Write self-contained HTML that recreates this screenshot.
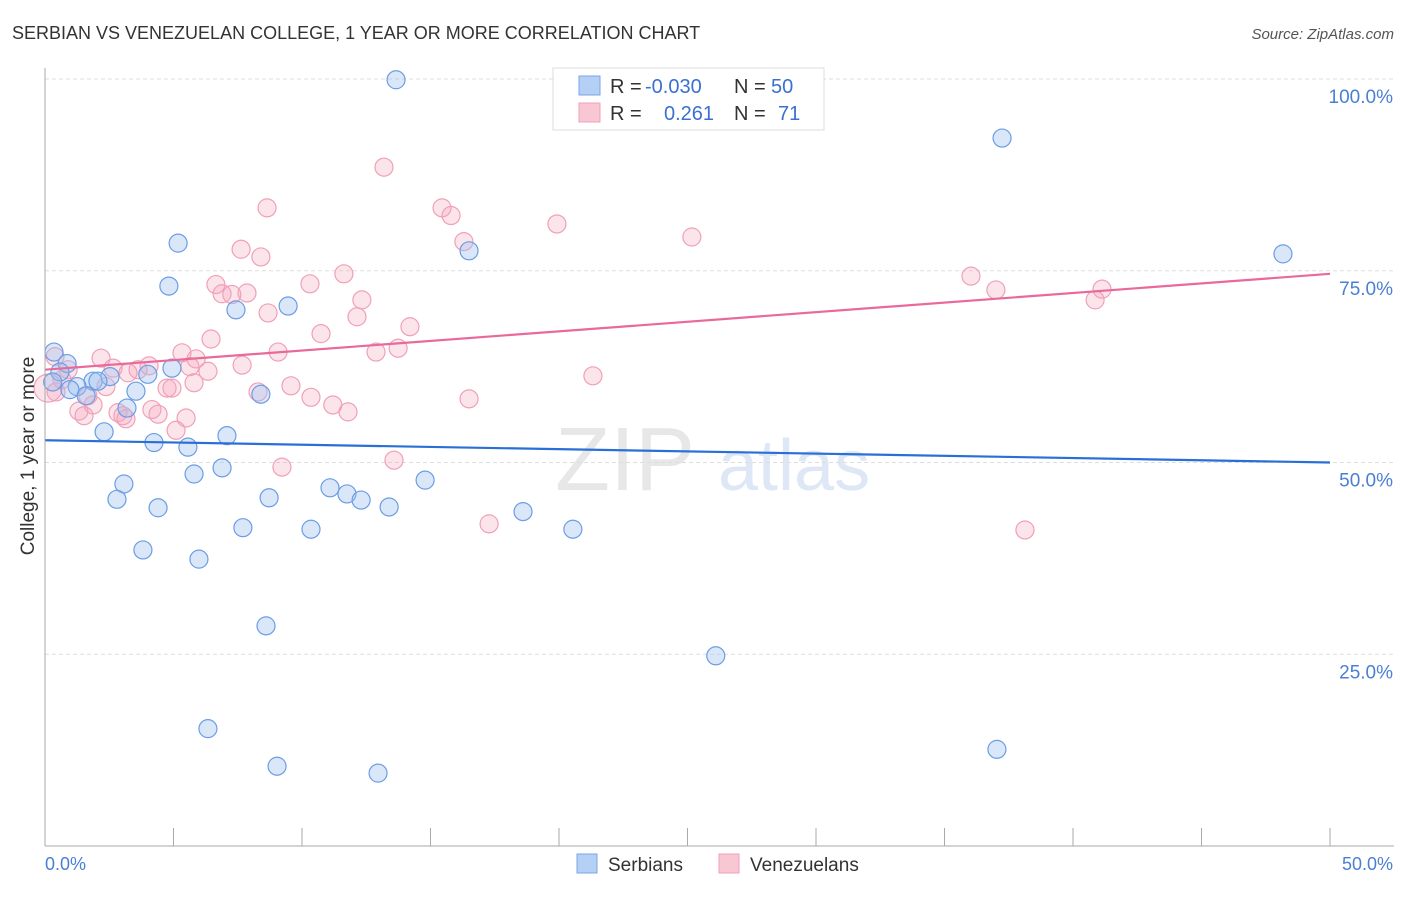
<!DOCTYPE html>
<html><head><meta charset="utf-8"><style>
body{margin:0;background:#fff;font-family:"Liberation Sans",sans-serif;}
svg text{font-family:"Liberation Sans",sans-serif;}
</style></head><body>
<svg id="c" width="1406" height="892">
<text x="12" y="39" font-size="18" fill="#333">SERBIAN VS VENEZUELAN COLLEGE, 1 YEAR OR MORE CORRELATION CHART</text>
<text x="1394" y="39" font-size="15" fill="#555" text-anchor="end" font-style="italic">Source: ZipAtlas.com</text>
<g><text x="555" y="490" font-size="90" fill="#ddd" font-family="Liberation Serif" opacity="0.7">ZIP</text><text x="718" y="490" font-size="72" fill="#c8d8ef" opacity="0.6">atlas</text></g>
<g id="grid"></g><g id="pts"></g><g id="lines"></g>
<line x1="45" y1="68" x2="45" y2="846" stroke="#aaa"/>
<line x1="45" y1="846" x2="1394" y2="846" stroke="#aaa"/>
<text x="34" y="456" font-size="19" fill="#333" text-anchor="middle" transform="rotate(-90 34 456)">College, 1 year or more</text>
<text x="45" y="870" font-size="18" fill="#4a7fd4">0.0%</text>
<text x="1393" y="870" font-size="18" fill="#4a7fd4" text-anchor="end">50.0%</text>
<g>
<rect x="553" y="68" width="271" height="62" fill="#fff" stroke="#ddd"/>
<rect x="579" y="76" width="21" height="19" fill="#b5d0f5" stroke="#7aa6e6"/>
<rect x="579" y="103" width="21" height="19" fill="#f9c6d4" stroke="#f0a0b8"/>
<text font-size="20" fill="#333"><tspan x="610" y="93">R =</tspan><tspan x="734" y="93">N =</tspan><tspan x="610" y="120">R =</tspan><tspan x="734" y="120">N =</tspan></text>
<text font-size="20" fill="#3b6fd0"><tspan x="645" y="93">-0.030</tspan><tspan x="771" y="93">50</tspan><tspan x="664" y="120">0.261</tspan><tspan x="778" y="120">71</tspan></text>
</g>
<g>
<rect x="577" y="854" width="20" height="19" fill="#b5d0f5" stroke="#7aa6e6"/>
<text x="608" y="871" font-size="19" fill="#333">Serbians</text>
<rect x="719" y="854" width="20" height="19" fill="#f9c6d4" stroke="#f0a0b8"/>
<text x="750" y="871" font-size="19" fill="#333">Venezuelans</text>
</g>
</svg>
<script>
const yTicks=[100,75,50,25];
const yTickLabels=["100.0%","75.0%","50.0%","25.0%"];
const xTicks=[0,5,10,15,20,25,30,35,40,45,50];
const serbX=[13.66,37.24,48.17,5.18,16.5,4.82,7.43,9.46,0.35,0.86,0.58,4.94,4.0,2.53,1.87,2.06,1.25,0.97,3.54,1.6,8.4,3.19,2.3,7.08,4.24,5.56,6.89,5.8,3.07,14.79,11.09,11.75,8.72,2.8,12.3,13.39,4.4,18.6,7.7,10.35,20.54,3.81,5.99,8.6,26.1,6.34,37.04,9.03,12.96,0.3];
const serbY=[99.9,92.3,77.2,78.6,77.6,73.0,69.9,70.4,64.4,62.9,61.8,62.3,61.5,61.2,60.6,60.6,59.9,59.5,59.3,58.7,58.9,57.1,54.0,53.5,52.6,52.0,49.3,48.5,47.2,47.7,46.7,45.9,45.4,45.2,45.1,44.2,44.1,43.6,41.5,41.3,41.3,38.6,37.4,28.7,24.8,15.3,12.6,10.4,9.5,60.5];
const venX=[13.19,8.64,15.45,15.8,19.92,25.17,16.3,7.63,8.4,11.63,36.03,10.31,6.65,37.0,41.13,7.86,6.89,7.27,12.33,40.86,8.68,12.14,14.2,10.74,6.46,13.74,12.88,9.07,5.33,2.18,5.88,0.39,4.05,7.67,5.64,2.65,0.9,3.62,6.34,3.23,21.32,0.66,5.8,9.57,2.37,4.75,4.94,8.29,0.43,1.67,10.35,16.5,1.87,11.2,1.32,4.16,2.84,11.79,4.4,1.52,3.03,5.49,3.15,5.1,13.58,9.22,17.28,38.13,0.12];
const venY=[88.5,83.2,83.2,82.2,81.1,79.4,78.8,77.8,76.8,74.6,74.3,73.3,73.2,72.5,72.6,72.1,72.0,71.9,71.2,71.2,69.5,69.0,67.7,66.8,66.1,64.9,64.4,64.4,64.3,63.6,63.5,63.8,62.6,62.7,62.5,62.3,62.1,62.1,61.9,61.7,61.3,60.8,60.4,60.0,59.9,59.7,59.7,59.2,59.2,58.7,58.5,58.3,57.5,57.5,56.7,56.9,56.5,56.6,56.3,56.1,56.1,55.8,55.7,54.2,50.3,49.4,42.0,41.2,59.7];
const serbTrend=[52.9,50.0];
const venTrend=[62.1,74.6];
const NS="http://www.w3.org/2000/svg";
const sx=v=>45+v/50*1285;
const sy=v=>846-v/100*767;
function mk(t,a,p){const e=document.createElementNS(NS,t);for(const k in a)e.setAttribute(k,a[k]);p.appendChild(e);return e;}
const grid=document.getElementById('grid');
yTicks.forEach((t,i)=>{
 const l=mk('line',{x1:45,x2:1394,y1:sy(t),y2:sy(t),stroke:'#ddd','stroke-dasharray':'4,3'},grid);
 
 
 const tx=mk('text',{x:1393,y:sy(t)+24,'font-size':19,fill:'#4a7fd4','text-anchor':'end'},grid);
 tx.textContent=yTickLabels[i];
 
 
});
xTicks.forEach(t=>{
 const l=mk('line',{x1:sx(t),x2:sx(t),y1:828,y2:846,stroke:'#aaa'},grid);
 
 
});
const pts=document.getElementById('pts');
venX.forEach((x,i)=>{
 const c=mk('circle',{cx:sx(x),cy:sy(venY[i]),r:i==venX.length-1?14:9,fill:'rgba(245,165,190,0.3)',stroke:'#f0a0b8','stroke-width':1.2},pts);
 
 
});
serbX.forEach((x,i)=>{
 const c=mk('circle',{cx:sx(x),cy:sy(serbY[i]),r:9,fill:'rgba(160,196,240,0.4)',stroke:'#6b9de6','stroke-width':1.2},pts);
 
 
});
const lines=document.getElementById('lines');
const lb=mk('line',{x1:sx(0),x2:sx(50),y1:sy(serbTrend[0]),y2:sy(serbTrend[1]),stroke:'#2a6fd6','stroke-width':2.2},lines);


const lp=mk('line',{x1:sx(0),x2:sx(50),y1:sy(venTrend[0]),y2:sy(venTrend[1]),stroke:'#e8699a','stroke-width':2.2},lines);


</script>
</body></html>
